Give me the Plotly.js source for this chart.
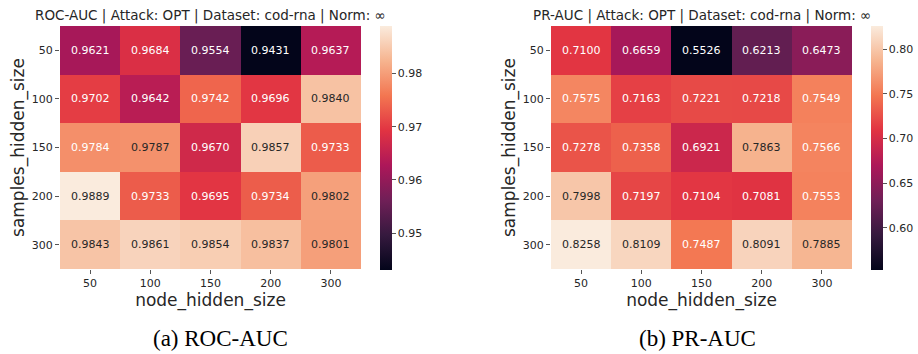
<!DOCTYPE html>
<html>
<head>
<meta charset="utf-8">
<script src="https://cdn.plot.ly/plotly-3.0.1.min.js"></script>
<style>html,body{margin:0;padding:0;background:#fff;}#chart{width:918px;height:354px;}</style>
</head>
<body>
<div id="chart"></div>
<script>
const nodeHiddenSize = ['50', '100', '150', '200', '300'];
const samplesHiddenSize = ['50', '100', '150', '200', '300'];
const rocAuc = [
  [0.9621, 0.9684, 0.9554, 0.9431, 0.9637],
  [0.9702, 0.9642, 0.9742, 0.9696, 0.9840],
  [0.9784, 0.9787, 0.9670, 0.9857, 0.9733],
  [0.9889, 0.9733, 0.9695, 0.9734, 0.9802],
  [0.9843, 0.9861, 0.9854, 0.9837, 0.9801]
];
const prAuc = [
  [0.7100, 0.6659, 0.5526, 0.6213, 0.6473],
  [0.7575, 0.7163, 0.7221, 0.7218, 0.7549],
  [0.7278, 0.7358, 0.6921, 0.7863, 0.7566],
  [0.7998, 0.7197, 0.7104, 0.7081, 0.7553],
  [0.8258, 0.8109, 0.7487, 0.8091, 0.7885]
];
const rocTicks = [0.95, 0.96, 0.97, 0.98];
const prTicks = [0.60, 0.65, 0.70, 0.75, 0.80];
const titles = ['ROC-AUC | Attack: OPT | Dataset: cod-rna | Norm: ∞', 'PR-AUC | Attack: OPT | Dataset: cod-rna | Norm: ∞'];
const captions = ['(a) ROC-AUC', '(b) PR-AUC'];

const rocket = [
  [0.0, '#03051a'], [0.1429, '#35193e'], [0.2857, '#701f57'], [0.4286, '#ad1759'],
  [0.5714, '#e13342'], [0.7143, '#f37651'], [0.8571, '#f6b48f'], [1.0, '#faebdd']
];

const W = 918, H = 354;
const fx = p => p / W, fy = p => (H - p) / H;
const FONT = 'DejaVu Sans, sans-serif';
const TXT = '#262626';

const panels = [
  {z: rocAuc, ticks: rocTicks, x0: 60, x1: 361, cb: 380, xa: 'x', ya: 'y', cap: 220},
  {z: prAuc, ticks: prTicks, x0: 551, x1: 852, cb: 871, xa: 'x2', ya: 'y2', cap: 697}
];
const topPx = 26, bottomPx = 269;

const data = [];
const annotations = [];
const layout = {
  width: W, height: H, margin: {l: 0, r: 0, t: 0, b: 0},
  paper_bgcolor: '#fff', plot_bgcolor: '#fff',
  font: {family: FONT, color: TXT},
  showlegend: false
};

panels.forEach((p, i) => {
  const flat = p.z.flat();
  const zmin = Math.min(...flat), zmax = Math.max(...flat);
  data.push({
    type: 'heatmap', z: p.z, x: nodeHiddenSize, y: samplesHiddenSize,
    xaxis: p.xa, yaxis: p.ya, colorscale: rocket, zmin: zmin, zmax: zmax,
    xgap: 0, ygap: 0, hoverinfo: 'skip',
    colorbar: {
      x: fx(p.cb), xanchor: 'left', xpad: 0, y: fy(topPx), yanchor: 'top', ypad: 0,
      len: bottomPx - topPx + 1, lenmode: 'pixels', thickness: 12, thicknessmode: 'pixels',
      outlinewidth: 0, ticks: 'outside', ticklen: 4, tickwidth: 1, tickcolor: '#555',
      tickvals: p.ticks, ticktext: p.ticks.map(v => v.toFixed(2)),
      tickfont: {family: FONT, size: 11, color: TXT}
    }
  });
  const sfx = i === 0 ? '' : '2';
  layout['xaxis' + sfx] = {
    domain: [fx(p.x0), fx(p.x1)], anchor: p.ya, type: 'category',
    showgrid: false, zeroline: false, showline: false,
    ticks: 'outside', ticklen: 4, tickwidth: 1, tickcolor: '#555',
    tickfont: {family: FONT, size: 11, color: TXT},
    title: {text: 'node_hidden_size', font: {family: FONT, size: 17, color: TXT}, standoff: 4},
    fixedrange: true
  };
  layout['yaxis' + sfx] = {
    domain: [fy(bottomPx), fy(topPx)], anchor: p.xa, type: 'category', autorange: 'reversed',
    showgrid: false, zeroline: false, showline: false,
    ticks: 'outside', ticklen: 4, tickwidth: 1, tickcolor: '#555',
    tickfont: {family: FONT, size: 11, color: TXT},
    title: {text: 'samples_hidden_size', font: {family: FONT, size: 17, color: TXT}, standoff: 2},
    fixedrange: true
  };
  p.z.forEach((row, r) => {
    row.forEach((v, c) => {
      const frac = (v - zmin) / (zmax - zmin);
      annotations.push({
        x: c, y: r, xref: p.xa, yref: p.ya,
        text: v.toFixed(4), showarrow: false,
        font: {family: FONT, size: 11, color: frac > 0.774 ? TXT : '#ffffff'}
      });
    });
  });
  annotations.push({
    x: (fx(p.x0) + fx(p.x1)) / 2, y: fy(15), xref: 'paper', yref: 'paper',
    text: titles[i], showarrow: false, xanchor: 'center', yanchor: 'middle',
    font: {family: FONT, size: 13.5, color: TXT}
  });
  annotations.push({
    x: fx(p.cap), y: fy(338), xref: 'paper', yref: 'paper',
    text: captions[i], showarrow: false, xanchor: 'center', yanchor: 'middle',
    font: {family: 'Liberation Serif, Times New Roman, serif', size: 23, color: '#000'}
  });
});
layout.annotations = annotations;

Plotly.newPlot('chart', data, layout, {displayModeBar: false, staticPlot: true});
</script>
</body>
</html>
